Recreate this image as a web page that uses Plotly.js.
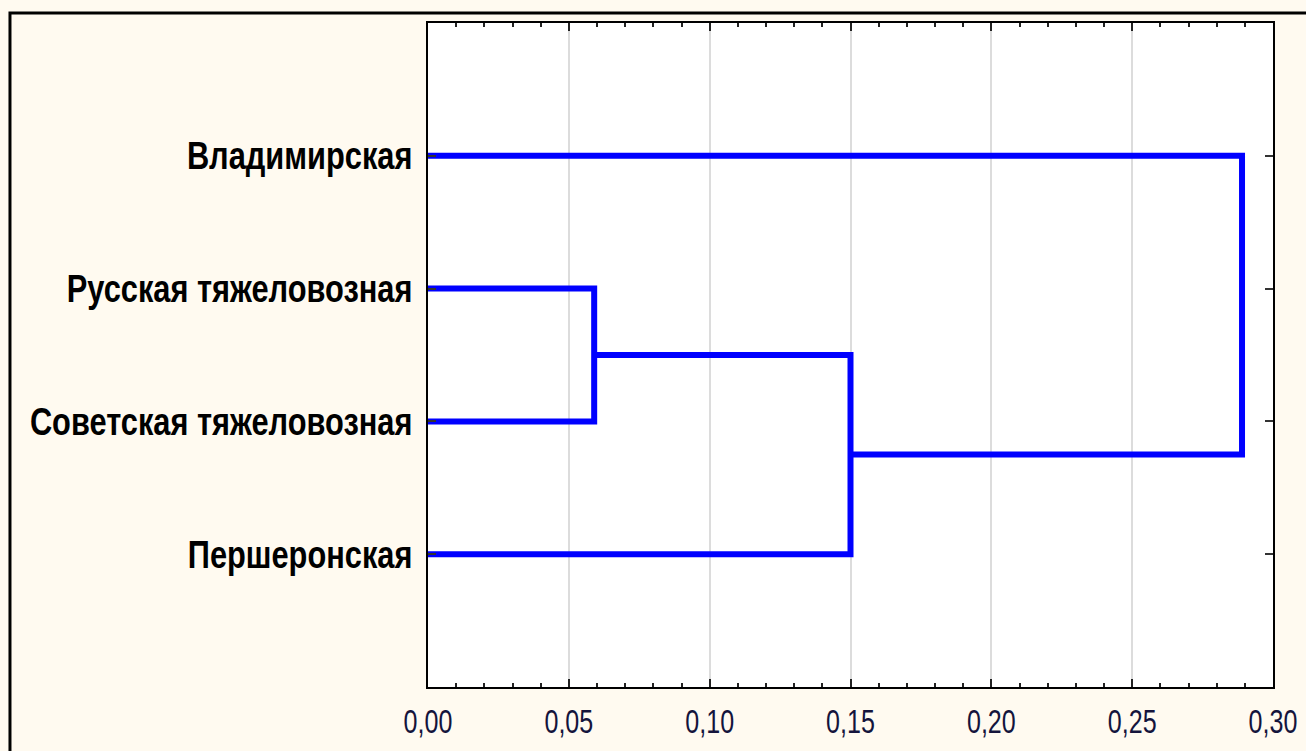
<!DOCTYPE html>
<html>
<head>
<meta charset="utf-8">
<script src="https://cdn.plot.ly/plotly-3.0.1.min.js"></script>
<style>html,body{margin:0;padding:0;background:#fffaf0;}#chart{width:1306px;height:751px;}</style>
</head>
<body>
<div id="chart"></div>
<script>
// Leaves (top to bottom) and their positions on the vertical axis
const leafLabels = ['Владимирская', 'Русская тяжеловозная', 'Советская тяжеловозная', 'Першеронская'];
const leafPositions = [1, 2, 3, 4];
// Merges: pairs of cluster ids (0..3 leaves, 4.. new clusters) and linkage distances
const mergeLeft = [1, 3, 0];
const mergeRight = [2, 4, 5];
const mergeHeights = [0.059, 0.150, 0.289];
const xTickVals = [0, 0.05, 0.10, 0.15, 0.20, 0.25, 0.30];

// Build dendrogram segments from the linkage
const nodeH = leafPositions.map(() => 0);
const nodeY = leafPositions.slice();
const xs = [], ys = [];
for (let i = 0; i < mergeHeights.length; i++) {
  const a = mergeLeft[i], b = mergeRight[i], h = mergeHeights[i];
  xs.push(nodeH[a], h, h, nodeH[b], null);
  ys.push(nodeY[a], nodeY[a], nodeY[b], nodeY[b], null);
  nodeH.push(h);
  nodeY.push((nodeY[a] + nodeY[b]) / 2);
}

const labelFont = 'Liberation Sans, Arial, sans-serif';

const trace = {
  type: 'scatter', mode: 'lines', x: xs, y: ys,
  line: {color: '#0000ff', width: 6, shape: 'linear'},
  hoverinfo: 'skip', showlegend: false, cliponaxis: false
};

const layout = {
  width: 1306, height: 751,
  paper_bgcolor: '#fffaf0', plot_bgcolor: '#ffffff',
  margin: {l: 428, r: 33, t: 23, b: 64},
  separators: ', ',
  showlegend: false,
  xaxis: {
    range: [0, 0.30], tickvals: xTickVals, tickformat: '.2f',
    showgrid: true, gridcolor: '#dcdcdc', gridwidth: 2,
    zeroline: false, showline: true, linecolor: '#000', linewidth: 2, mirror: 'ticks',
    ticks: 'inside', ticklen: 8, tickwidth: 2, tickcolor: '#222',
    minor: {dtick: 0.01, ticks: 'inside', ticklen: 4, tickwidth: 2, tickcolor: '#222', showgrid: false},
    tickfont: {family: labelFont, size: 33, color: '#14143c'},
    ticklabelstandoff: 4,
    fixedrange: true
  },
  yaxis: {
    range: [5, 0], tickvals: leafPositions, ticktext: leafLabels,
    showgrid: false, zeroline: false, showline: true, linecolor: '#000', linewidth: 2, mirror: 'ticks',
    ticks: 'inside', ticklen: 8, tickwidth: 2, tickcolor: '#333',
    tickfont: {family: labelFont, size: 38, color: '#000', weight: 'bold'},
    ticklabelstandoff: 6,
    fixedrange: true
  },
  shapes: [{
    type: 'rect', xref: 'paper', yref: 'paper',
    x0: -0.4947, x1: 1.06, y0: -0.2, y1: 1.0151,
    line: {color: '#000', width: 3}, fillcolor: 'rgba(0,0,0,0)', layer: 'above'
  }]
};

Plotly.newPlot('chart', [trace], layout, {displayModeBar: false, staticPlot: true}).then(function (gd) {
  // Condense label glyphs horizontally, like the narrow type of the original
  function condense(sel, factor) {
    gd.querySelectorAll(sel).forEach(function (t) {
      const w = t.getComputedTextLength();
      t.setAttribute('textLength', (w * factor).toFixed(1));
      t.setAttribute('lengthAdjust', 'spacingAndGlyphs');
    });
  }
  condense('.ytick text', 0.81);
  condense('.xtick text', 0.76);
});
</script>
</body>
</html>
